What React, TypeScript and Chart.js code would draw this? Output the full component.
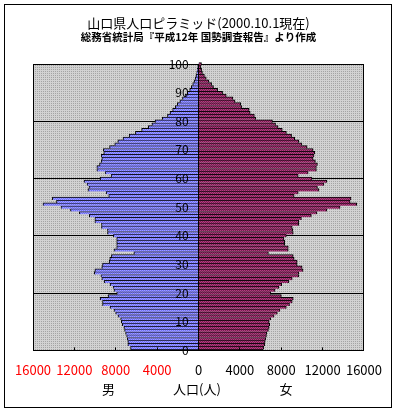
import React, { useEffect, useRef } from 'react';
import { Chart, registerables } from 'chart.js';

Chart.register(...registerables);

const TITLE = '山口県人口ピラミッド(2000.10.1現在)';
const SUBTITLE = '総務省統計局『平成12年 国勢調査報告』より作成';
const MALE_LABEL = '男';
const FEMALE_LABEL = '女';
const AXIS_LABEL = '人口(人)';

const AGES = [
  0, 1, 2, 3, 4, 5, 6, 7, 8, 9, 10, 11, 12, 13, 14, 15, 16, 17, 18, 19,
  20, 21, 22, 23, 24, 25, 26, 27, 28, 29, 30, 31, 32, 33, 34, 35, 36, 37, 38, 39,
  40, 41, 42, 43, 44, 45, 46, 47, 48, 49, 50, 51, 52, 53, 54, 55, 56, 57, 58, 59,
  60, 61, 62, 63, 64, 65, 66, 67, 68, 69, 70, 71, 72, 73, 74, 75, 76, 77, 78, 79,
  80, 81, 82, 83, 84, 85, 86, 87, 88, 89, 90, 91, 92, 93, 94, 95, 96, 97, 98, 99, 100,
];

const MALE = [
  6570, 6570, 6830, 6830, 6890, 6950, 7050, 7150, 7210, 7370,
  7460, 7530, 7780, 8010, 8170, 8550, 9280, 9280, 9510, 8740,
  7910, 8170, 8260, 8550, 9120, 9350, 9440, 10080, 10020, 9350,
  9280, 8640, 8580, 8420, 6250, 8170, 7910, 7910, 7910, 7910,
  8230, 8800, 8800, 9380, 9380, 10020, 10020, 10560, 11520, 12380,
  13300, 15040, 13730, 14130, 8680, 8930, 10690, 10590, 10780, 11070,
  9510, 8450, 9030, 9830, 9830, 9570, 9410, 9350, 9410, 9160,
  9200, 8600, 8100, 7800, 7300, 6700, 6100, 5500, 4850, 4500,
  4200, 3500, 3000, 2750, 2500, 2250, 2050, 1800, 1550, 1300,
  1100, 850, 700, 560, 420, 320, 240, 170, 110, 70, 40,
];

const FEMALE = [
  6250, 6320, 6410, 6440, 6510, 6570, 6600, 6760, 6830, 6890,
  6830, 6990, 7310, 7620, 7880, 8490, 8800, 9060, 9160, 8010,
  6990, 7400, 7780, 8040, 8740, 9060, 9700, 9700, 10110, 10020,
  9540, 9540, 9250, 9160, 6760, 8680, 8680, 8330, 8330, 8260,
  8490, 9160, 9120, 9060, 9700, 9700, 9950, 10910, 11450, 12410,
  13690, 15300, 14660, 14750, 9250, 9640, 11650, 11500, 12130, 12420,
  10980, 9640, 10600, 11400, 11400, 11500, 11300, 11080, 11170, 11240,
  11080, 10500, 10000, 9700, 9300, 9000, 8500, 8100, 7700, 7450,
  7150, 5550, 5400, 5000, 4900, 4200, 4080, 3530, 3320, 2680,
  2330, 1850, 1450, 1270, 1000, 750, 570, 380, 300, 220, 290,
];

const X_TICKS = [-16000, -12000, -8000, -4000, 0, 4000, 8000, 12000, 16000];
const Y_TICKS = [0, 10, 20, 30, 40, 50, 60, 70, 80, 90, 100];

const FONT = '"Noto Sans CJK JP", "Noto Sans", sans-serif';

export default function App() {
  const ref = useRef<HTMLCanvasElement>(null);

  useEffect(() => {
    const canvas = ref.current;
    if (!canvas) return;
    const ctx2d = canvas.getContext('2d')!;
    const mkPattern = (cells: string[][]) => {
      const c = document.createElement('canvas');
      c.width = cells[0].length;
      c.height = cells.length;
      const g = c.getContext('2d')!;
      cells.forEach((row, y) =>
        row.forEach((col, x) => {
          g.fillStyle = col;
          g.fillRect(x, y, 1, 1);
        })
      );
      return ctx2d.createPattern(c, 'repeat') as CanvasPattern;
    };
    const bluePat = mkPattern([
      ['#a0a0ff', '#6c6cff'],
      ['#6c6cff', '#a0a0ff'],
    ]);
    const maroonPat = mkPattern([
      ['#b33d80', '#7a1d52'],
      ['#7a1d52', '#b33d80'],
    ]);
    const grayPat = mkPattern([
      ['#d2d2d2', '#d2d2d2'],
      ['#d2d2d2', '#a4a4a4'],
    ]);

    const framePlugin = {
      id: 'frame',
      beforeDraw(chart: any) {
        const { ctx, chartArea: a } = chart;
        ctx.save();
        ctx.fillStyle = '#ffffff';
        ctx.fillRect(0, 0, chart.width, chart.height);
        ctx.strokeStyle = '#000';
        ctx.lineWidth = 1;
        ctx.strokeRect(4.5, 4.5, 387, 403);
        ctx.fillStyle = grayPat;
        ctx.fillRect(a.left, a.top, a.right - a.left, a.bottom - a.top);
        ctx.restore();
      },
      afterDraw(chart: any) {
        const { ctx } = chart;
        const xs = chart.scales.x;
        ctx.save();
        ctx.font = '13px ' + FONT;
        ctx.fillStyle = '#000';
        ctx.textAlign = 'center';
        ctx.textBaseline = 'middle';
        const yText = 389.5;
        ctx.fillText(MALE_LABEL, xs.getPixelForValue(-8700), yText);
        ctx.fillText(AXIS_LABEL, xs.getPixelForValue(-150), yText);
        ctx.fillText(FEMALE_LABEL, xs.getPixelForValue(8450), yText);
        ctx.restore();
      },
    };

    const border = { top: 1, right: 1, bottom: 0, left: 1 };
    const clip = { left: 0, right: 0, top: 3, bottom: 0 };

    const chart = new Chart(canvas, {
      type: 'bar',
      data: {
        datasets: [
          {
            label: MALE_LABEL,
            data: AGES.map((a, i) => ({ x: -MALE[i], y: a })),
            backgroundColor: bluePat,
            borderColor: '#000',
            borderWidth: border,
            barPercentage: 1,
            categoryPercentage: 1,
            grouped: false,
            clip,
            xAxisID: 'x',
            yAxisID: 'y',
          } as any,
          {
            label: FEMALE_LABEL,
            data: AGES.map((a, i) => ({ x: FEMALE[i], y: a })),
            backgroundColor: maroonPat,
            borderColor: '#000',
            borderWidth: border,
            barPercentage: 1,
            categoryPercentage: 1,
            grouped: false,
            clip,
            xAxisID: 'x',
            yAxisID: 'y',
          } as any,
        ],
      },
      options: {
        animation: false,
        responsive: false,
        devicePixelRatio: 1,
        indexAxis: 'y',
        events: [],
        layout: { padding: { left: 31.5, right: 31.5, top: 12, bottom: 20 } },
        plugins: {
          legend: { display: false },
          tooltip: { enabled: false },
          title: {
            display: true,
            text: TITLE,
            color: '#000',
            font: { family: FONT, size: 13, weight: 'normal', lineHeight: 1.15 },
            padding: { top: 4, bottom: 0 },
          },
          subtitle: {
            display: true,
            text: SUBTITLE,
            color: '#000',
            font: { family: FONT, size: 10.5, weight: 'bold', lineHeight: 1.1 },
            padding: { top: 0, bottom: 21.5 },
          },
        },
        scales: {
          x: {
            type: 'linear',
            position: 'bottom',
            min: -16000,
            max: 16000,
            offset: false,
            afterBuildTicks: (s: any) => {
              s.ticks = X_TICKS.map((v) => ({ value: v }));
            },
            grid: {
              display: true,
              offset: false,
              drawOnChartArea: true,
              z: 1,
              color: (c: any) =>
                c.tick && (c.tick.value === 0 || Math.abs(c.tick.value) === 16000)
                  ? '#000'
                  : 'rgba(0,0,0,0)',
              drawTicks: true,
              tickLength: -3,
              tickColor: '#000',
              lineWidth: 1,
            },
            border: { display: true, color: '#000', z: 1 },
            ticks: {
              autoSkip: false,
              maxRotation: 0,
              padding: 15,
              font: { family: FONT, size: 13 },
              color: (c: any) => (c.tick && c.tick.value < 0 ? '#ff0000' : '#000'),
              callback: (v: any) => String(Math.abs(Number(v))),
            },
          },
          y: {
            type: 'linear',
            position: 'left',
            min: 0,
            max: 100,
            offset: false,
            afterBuildTicks: (s: any) => {
              s.ticks = Y_TICKS.map((v) => ({ value: v }));
            },
            grid: {
              offset: false,
              color: (c: any) =>
                c.tick && c.tick.value % 20 === 0 ? '#000' : 'rgba(0,0,0,0)',
              drawTicks: false,
              lineWidth: 1,
            },
            border: { display: false },
            ticks: { display: false },
          },
          yl: {
            type: 'linear',
            position: { x: -950 },
            min: 0,
            max: 100,
            offset: false,
            afterBuildTicks: (s: any) => {
              s.ticks = Y_TICKS.map((v) => ({ value: v }));
            },
            grid: { display: false, drawTicks: false, offset: false },
            border: { display: false },
            ticks: {
              z: 1,
              autoSkip: false,
              padding: 0,
              color: '#000',
              font: { family: FONT, size: 12 },
            },
          },
        } as any,
      },
      plugins: [framePlugin],
    });

    return () => chart.destroy();
  }, []);

  return (
    <div style={{ position: 'absolute', left: 0, top: 0, width: 397, height: 413 }}>
      <canvas ref={ref} width={397} height={413} style={{ display: 'block', width: 397, height: 413 }} />
    </div>
  );
}
